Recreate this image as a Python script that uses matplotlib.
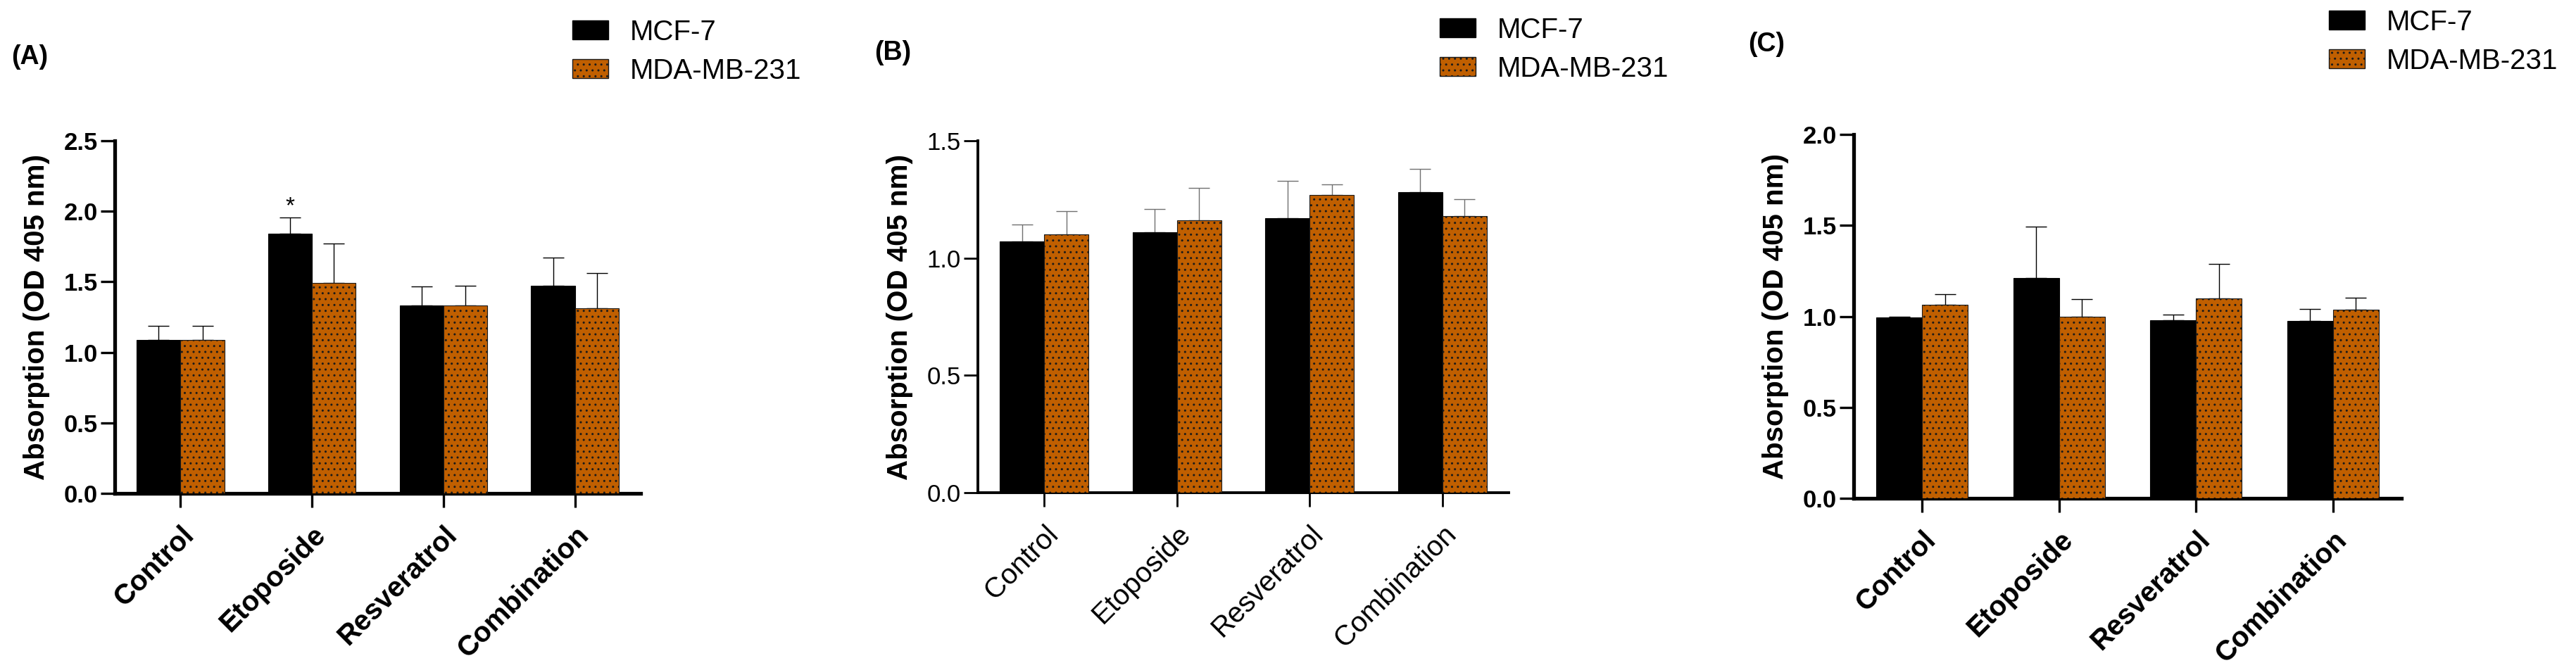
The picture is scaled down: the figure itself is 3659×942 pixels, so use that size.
import matplotlib
matplotlib.use("Agg")
import matplotlib.pyplot as plt
from matplotlib.patches import Patch
import numpy as np

plt.rcParams['font.family'] = ['Liberation Sans', 'DejaVu Sans']
plt.rcParams['hatch.linewidth'] = 1.0

categories = ['Control', 'Etoposide', 'Resveratrol', 'Combination']
series_names = ['MCF-7', 'MDA-MB-231']

# Panel A
a_mcf = [1.09, 1.84, 1.33, 1.47]
a_mcf_err = [0.10, 0.115, 0.135, 0.20]
a_mda = [1.09, 1.49, 1.33, 1.31]
a_mda_err = [0.10, 0.28, 0.14, 0.25]
a_yticks = [0.0, 0.5, 1.0, 1.5, 2.0, 2.5]

# Panel B
b_mcf = [1.07, 1.11, 1.17, 1.28]
b_mcf_err = [0.073, 0.10, 0.16, 0.10]
b_mda = [1.10, 1.16, 1.27, 1.18]
b_mda_err = [0.10, 0.14, 0.045, 0.07]
b_yticks = [0.0, 0.5, 1.0, 1.5]

# Panel C
c_mcf = [0.995, 1.21, 0.98, 0.975]
c_mcf_err = [0.005, 0.285, 0.03, 0.065]
c_mda = [1.065, 1.00, 1.10, 1.035]
c_mda_err = [0.058, 0.095, 0.19, 0.067]
c_yticks = [0.0, 0.5, 1.0, 1.5, 2.0]

panel_labels = ['(A)', '(B)', '(C)']
ylabel = 'Absorption (OD 405 nm)'

BLACK = '#000000'
ORANGE = '#C05F00'

W, H = 3659, 942
fig = plt.figure(figsize=(W / 100, H / 100), dpi=100)


def px_axes(l, r, t, b):
    return fig.add_axes([l / W, 1 - b / H, (r - l) / W, (b - t) / H])


def draw_panel(ax, mcf, mcf_err, mda, mda_err, yticks, spine_w, tick_w,
               tick_weight, xtick_weight, err_color):
    x = np.arange(len(categories))
    bw = 1 / 3
    ax.bar(x - bw / 2, mcf, width=bw, color=BLACK, edgecolor=BLACK,
           linewidth=0.8, zorder=3)
    ax.bar(x + bw / 2, mda, width=bw, color=ORANGE, edgecolor='#1a1a1a',
           linewidth=0.8, hatch='..', zorder=3)
    ax.errorbar(x - bw / 2, mcf, yerr=[np.zeros(len(mcf)), mcf_err], fmt='none',
                ecolor=err_color, elinewidth=1.0, capsize=10.5, capthick=1.0, zorder=1)
    ax.errorbar(x + bw / 2, mda, yerr=[np.zeros(len(mda)), mda_err], fmt='none',
                ecolor=err_color, elinewidth=1.0, capsize=10.5, capthick=1.0, zorder=1)
    ax.set_xlim(-0.5, len(categories) - 0.5)
    ax.set_ylim(yticks[0], yticks[-1])
    ax.set_yticks(yticks)
    ax.set_yticklabels([f'{v:.1f}' for v in yticks], fontsize=25,
                       fontweight=tick_weight)
    ax.set_xticks(x)
    ax.set_xticklabels(categories, rotation=45, ha='right',
                       rotation_mode='anchor', fontsize=29,
                       fontweight=xtick_weight)
    for s in ['top', 'right']:
        ax.spines[s].set_visible(False)
    for s in ['left', 'bottom']:
        ax.spines[s].set_linewidth(spine_w)
    ax.tick_params(axis='both', direction='out', length=14.5, width=tick_w)
    ax.tick_params(axis='y', pad=3)
    ax.tick_params(axis='x', pad=14)
    ax.set_ylabel(ylabel, fontsize=29, fontweight='bold', labelpad=14)
    return x, bw


axA = px_axes(163, 910, 200, 701)
xA, bw = draw_panel(axA, a_mcf, a_mcf_err, a_mda, a_mda_err, a_yticks,
                    3.8, 2.4, 'bold', 'bold', 'black')
axA.text(xA[1] - bw / 2, 1.99, '*', ha='center', va='baseline', fontsize=24)

axB = px_axes(1389, 2143, 200, 700)
draw_panel(axB, b_mcf, b_mcf_err, b_mda, b_mda_err, b_yticks,
           2.8, 2.0, 'normal', 'normal', '#707070')

axC = px_axes(2633, 3411, 191, 708)
draw_panel(axC, c_mcf, c_mcf_err, c_mda, c_mda_err, c_yticks,
           3.8, 2.4, 'bold', 'bold', 'black')

handles = [Patch(facecolor=BLACK, edgecolor=BLACK),
           Patch(facecolor=ORANGE, edgecolor='#1a1a1a', hatch='..')]

for (lx, ly) in [(813, 51), (2045, 48), (3308, 37)]:
    fig.legend(handles, series_names, loc='upper left',
               bbox_to_anchor=(lx / W, 1 - (ly - 24) / H),
               frameon=False, fontsize=29, handlelength=1.27,
               handleheight=0.65, handletextpad=0.77, labelspacing=0.42,
               borderpad=0, borderaxespad=0)

for lab, (tx, ty) in zip(panel_labels, [(16, 81), (1242, 75), (2483, 63)]):
    fig.text(tx / W, 1 - ty / H, lab, fontsize=27, fontweight='bold',
             ha='left', va='center')

fig.savefig('out.png', dpi=100)
